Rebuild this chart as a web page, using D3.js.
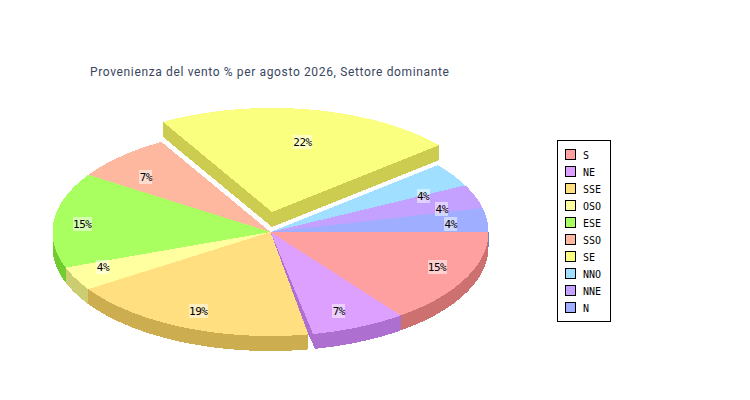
<!DOCTYPE html>
<html>
<head>
<meta charset="utf-8">
<script src="https://cdn.jsdelivr.net/npm/d3@7/dist/d3.min.js"></script>
<style>
html,body{margin:0;padding:0;background:#fff;}
svg{display:block;}
</style>
</head>
<body>
<svg id="chart" width="750" height="400"></svg>
<script>
const titleText = "Provenienza del vento % per agosto 2026, Settore dominante";
const categories = ["S","NE","SSE","OSO","ESE","SSO","SE","NNO","NNE","N"];
const counts = [4,2,5,1,4,2,6,1,1,1];
const topColors = ["#ffa0a0","#dda0ff","#ffdf80","#ffff9f","#aaff60","#ffb8a0","#fbff80","#a0dfff","#c4a0ff","#a0aeff"];
const sideColors = ["#cc7070","#ae70d0","#ccae50","#cccc70","#70cc30","#cc9070","#cccc50","#70aecc","#9470cc","#7080cc"];
const explodedCategory = "SE";

const cx = 270.5, cy = 232, rx = 218, ry = 104, depth = 15;
const svg = d3.select("#chart");
svg.append("rect").attr("width",750).attr("height",400).attr("fill","#fff");

svg.append("text").attr("x",90).attr("y",76)
  .attr("font-family","Roboto, sans-serif").attr("font-size",12)
  .attr("letter-spacing","0.64").attr("fill","#3a4560").text(titleText);

const sx = d3.scaleLinear().domain([-1,1]).range([cx-rx,cx+rx]);
const sy = d3.scaleLinear().domain([-1,1]).range([cy-ry,cy+ry]);

const total = d3.sum(counts);
const arcs = d3.pie().sort(null).startAngle(0).endAngle(2*Math.PI)(counts)
  .map((a,i)=>({cat:categories[i],value:counts[i],top:topColors[i],side:sideColors[i],a0:a.startAngle,a1:a.endAngle}));

const explode = {dx:1.5, dy:-20};
const none = {dx:0,dy:0};
const off = d => d.cat===explodedCategory ? explode : none;
const pt = (a,o,dz=0)=>[sx(Math.cos(a))+o.dx, sy(Math.sin(a))+o.dy+dz];
const tip = (o,dz=0)=>[sx(0)+o.dx, sy(0)+o.dy+dz];
const rimPts = (a0,a1,o,dz=0)=>{
  const n = Math.max(2,Math.ceil((a1-a0)/0.01));
  return d3.range(n+1).map(k=>pt(a0+(a1-a0)*k/n,o,dz));
};
const line = d3.line();
const g = svg.append("g").attr("shape-rendering","crispEdges");
const poly = (pts,fill)=>g.append("path").attr("d",line(pts)+"Z").attr("fill",fill);
const wall = (a0,a1,o,fill,extra=[])=>poly([...rimPts(a0,a1,o),...extra,...rimPts(a0,a1,o,depth).reverse()],fill);

// Exploded slice sits behind the others
arcs.filter(d=>d.cat===explodedCategory).forEach(d=>{
  const o=off(d);
  poly([tip(o),pt(d.a0,o),pt(d.a0,o,depth),tip(o,depth)],d.side);
  poly([tip(o),pt(d.a1,o),pt(d.a1,o,depth),tip(o,depth)],d.side);
  poly([tip(o),...rimPts(d.a0,d.a1,o)],d.top);
});

// NE: its rim stops a little short of SSE, showing an inner wall sliver
const ne = arcs.find(d=>d.cat==="NE");
const neEnd = ne.a1-0.022;
const neFoot = [pt(neEnd,none)[0]+2, pt(neEnd,none,depth)[1]];
wall(ne.a0,neEnd,none,ne.side,[neFoot]);
poly([tip(none),pt(ne.a1,none),neFoot,pt(neEnd,none)],ne.side);

// Outer walls of the front half
arcs.filter(d=>d.cat!==explodedCategory && d.cat!=="NE").forEach(d=>{
  const end=Math.min(d.a1,Math.PI);
  if(end>d.a0) wall(d.a0,end,none,d.side);
});
// The last slice shows a hairline wall at the right-hand edge
const lastArc = arcs[arcs.length-1];
poly([pt(lastArc.a1,none),pt(lastArc.a1,none,depth),[pt(lastArc.a1,none)[0]-1,pt(lastArc.a1,none,depth)[1]],[pt(lastArc.a1,none)[0]-1,pt(lastArc.a1,none)[1]]],lastArc.side);

// Top faces
arcs.filter(d=>d.cat!==explodedCategory).forEach(d=>{
  const end = d.cat==="NE" ? neEnd : d.a1;
  poly([tip(none),...rimPts(d.a0,end,none)],d.top);
});

// Percent labels (small per-label nudges follow the reference's placement)
const labelNudgeX = [1,-4,4,2,0,6,0,-2,-3,-4];
const labelNudgeY = [-3,4,4,-3,-2,-1,4,4,1,-2];
const lg = svg.append("g");
arcs.forEach((d,i)=>{
  const o=off(d), m=(d.a0+d.a1)/2;
  const x = sx(Math.cos(m)*0.86)+o.dx-2+labelNudgeX[i];
  const y = sy(Math.sin(m)*0.75)+o.dy+3+labelNudgeY[i];
  const t = Math.round(d.value/total*100)+"%";
  const w = t.length*6+1;
  lg.append("rect").attr("x",Math.round(x-w/2)).attr("y",Math.round(y-7)).attr("width",w).attr("height",14)
    .attr("fill","#fff").attr("fill-opacity",0.5).attr("shape-rendering","crispEdges");
  lg.append("text").attr("x",x).attr("y",y+4).attr("text-anchor","middle")
    .attr("font-family","'DejaVu Sans Mono', monospace").attr("font-size",11).attr("letter-spacing","-0.5")
    .attr("fill","#000").text(t);
});

// Legend
const leg = svg.append("g").attr("shape-rendering","crispEdges");
leg.append("rect").attr("x",557.5).attr("y",140.5).attr("width",53).attr("height",181)
  .attr("fill","#fff").attr("stroke","#000");
const ly = d3.scalePoint().domain(categories).range([155,308]);
categories.forEach((c,i)=>{
  leg.append("rect").attr("x",565.5).attr("y",ly(c)-5.5).attr("width",10).attr("height",10)
    .attr("fill",topColors[i]).attr("stroke","#000");
  leg.append("text").attr("x",583).attr("y",ly(c)+4)
    .attr("font-family","'DejaVu Sans Mono', monospace").attr("font-size",10)
    .attr("fill","#000").text(c);
});
</script>
</body>
</html>
